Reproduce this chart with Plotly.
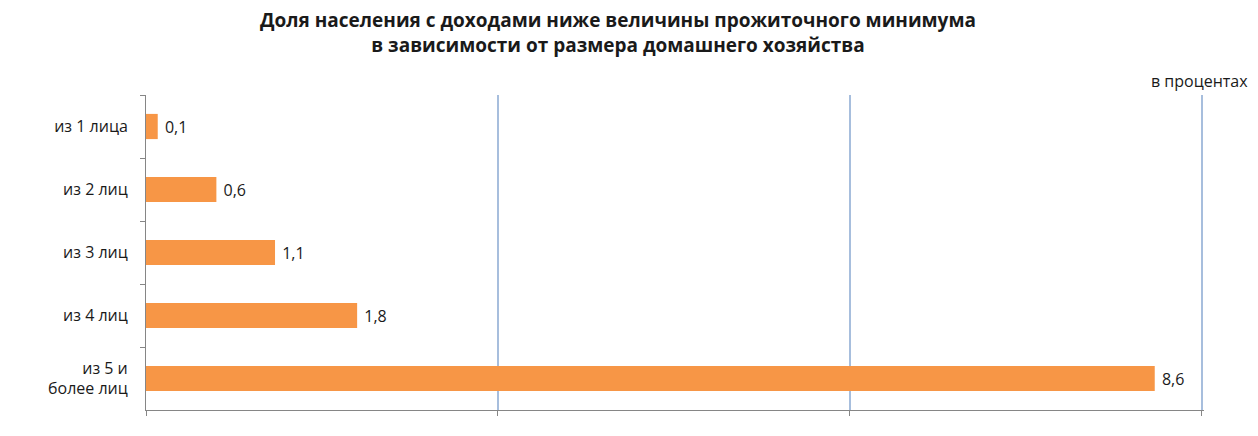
import plotly.graph_objects as go

# доля населения с доходами ниже прожиточного минимума, %
categories = ["из 1 лица", "из 2 лиц", "из 3 лиц", "из 4 лиц", "из 5 и<br>более лиц"]
values = [0.1, 0.6, 1.1, 1.8, 8.6]

title = ("<b>Доля населения с доходами ниже величины прожиточного минимума<br>"
         "в зависимости от размера домашнего хозяйства</b>")

fig = go.Figure()
fig.add_trace(go.Bar(
    y=categories,
    x=values,
    orientation="h",
    marker=dict(color="#F79646", line=dict(width=0)),
    width=0.4,
    text=values,
    texttemplate=" %{x:.1f}",
    textposition="outside",
    textfont=dict(size=16, color="#1a1a1a"),
    cliponaxis=False,
    showlegend=False,
))

# page body has an 8px margin, so the figure is a bit smaller than the window
fig.update_layout(
    width=1250,
    height=428,
    separators=", ",
    font=dict(family="Open Sans", size=16, color="#1a1a1a"),
    title=dict(text=title, x=0.488, xref="container", xanchor="center",
               y=0.955, yanchor="top",
               font=dict(size=19, color="#1a1a1a")),
    margin=dict(l=138, r=54, t=87, b=26),
    plot_bgcolor="white",
    paper_bgcolor="white",
    xaxis=dict(
        # a touch past 9 so the last gridline isn't dropped at the edge
        range=[0, 9.02],
        tickvals=[0, 3, 6, 9],
        showgrid=True,
        gridcolor="#A7BEDD",
        gridwidth=1.5,
        zeroline=False,
        showline=True,
        linecolor="#868686",
        linewidth=1,
        ticks="outside",
        ticklen=5,
        tickcolor="#868686",
        showticklabels=False,
        fixedrange=True,
    ),
    yaxis=dict(
        autorange="reversed",
        showline=True,
        linecolor="#868686",
        linewidth=1,
        ticks="outside",
        ticklen=5,
        tickcolor="#868686",
        tickson="boundaries",
        ticklabelstandoff=14,
        showgrid=False,
        fixedrange=True,
    ),
    annotations=[dict(
        text="в процентах",
        xref="paper", yref="paper",
        x=1, y=1,
        xanchor="right", yanchor="bottom",
        xshift=46, yshift=1,
        showarrow=False,
        font=dict(size=16, color="#1a1a1a"),
    )],
)

fig.write_html("out.html")
